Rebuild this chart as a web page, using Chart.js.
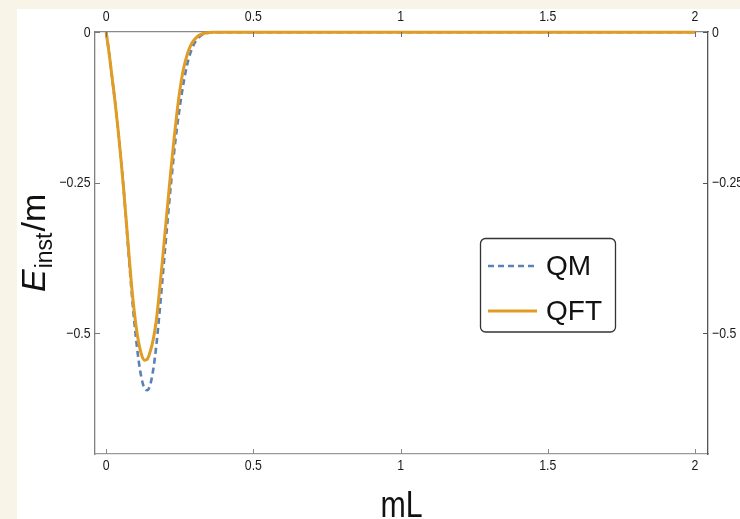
<!DOCTYPE html>
<html><head><meta charset="utf-8">
<script src="https://cdn.jsdelivr.net/npm/chart.js@4.4.0/dist/chart.umd.min.js"></script>
<style>html,body{margin:0;padding:0;background:#f8f5e8;overflow:hidden}#wrap{position:absolute;left:0;top:0;width:740px;height:519px}canvas{display:block}</style>
</head><body><div id="wrap"><canvas id="c" width="740" height="519"></canvas></div>
<script>
// ---- data ----
const mL = [0,0.01,0.02,0.03,0.04,0.05,0.06,0.07,0.08,0.09,0.10,0.11,0.12,0.13,0.14,0.15,0.16,0.17,0.18,0.19,0.20,0.21,0.22,0.23,0.24,0.25,0.26,0.27,0.28,0.29,0.30,0.31,0.32,0.33,0.34,0.35,0.36,2.0];
const QM  = [0,-0.035,-0.075,-0.115,-0.16,-0.21,-0.265,-0.328,-0.392,-0.452,-0.503,-0.545,-0.575,-0.592,-0.595,-0.585,-0.56,-0.522,-0.472,-0.417,-0.36,-0.305,-0.252,-0.203,-0.16,-0.124,-0.092,-0.065,-0.044,-0.029,-0.018,-0.011,-0.006,-0.003,-0.0015,-0.0005,0,0];
const QFT = [0,-0.035,-0.075,-0.115,-0.16,-0.21,-0.265,-0.325,-0.385,-0.44,-0.483,-0.515,-0.536,-0.545,-0.543,-0.53,-0.51,-0.48,-0.435,-0.385,-0.332,-0.28,-0.228,-0.18,-0.135,-0.097,-0.067,-0.046,-0.03,-0.019,-0.012,-0.007,-0.004,-0.002,-0.001,-0.0004,0,0];
const seriesNames = ['QM','QFT'];
const xTicks = [0,0.5,1,1.5,2];
const yTicks = [0,-0.25,-0.5];
const xTitle = 'mL';

const REG = "'Liberation Sans',Arial,sans-serif";
const fmt = v => (v === 0 ? '0' : String(v).replace('-', '\u2212'));
const SQ = 0.82; // horizontal squeeze to mimic the narrow face of the reference

function narrowText(c, text, x, y, align, baseline, size){
  c.save(); c.translate(x,y); c.scale(SQ,1);
  c.font = size+'px '+REG; c.textAlign=align; c.textBaseline=baseline; c.fillText(text,0,0);
  c.restore();
}

const bg = {id:'bg', beforeDraw(chart){const c=chart.ctx;c.save();c.fillStyle='#f8f5e8';c.fillRect(0,0,chart.width,chart.height);c.fillStyle='#ffffff';c.fillRect(17,9,chart.width-17,chart.height-9);c.restore();}};

const tickMarks = {id:'tickMarks', afterDraw(chart){
  const c=chart.ctx, a=chart.chartArea, sx=chart.scales.x, sy=chart.scales.y, sx2=chart.scales.x2, sy2=chart.scales.y2;
  c.save(); c.lineWidth=1;
  xTicks.forEach(v=>{const p=Math.round(sx.getPixelForValue(v))+0.5;
    c.strokeStyle='#8a8a8a';c.beginPath();c.moveTo(p,a.bottom);c.lineTo(p,a.bottom-5);c.stroke();
    c.strokeStyle='#6a6a6a';c.beginPath();c.moveTo(p,a.top);c.lineTo(p,a.top+5);c.stroke();});
  yTicks.forEach(v=>{const p=Math.round(sy.getPixelForValue(v))+0.5;
    c.strokeStyle='#7a7a7a';c.beginPath();c.moveTo(a.left,p);c.lineTo(a.left+5,p);c.stroke();
    c.strokeStyle='#555';c.beginPath();c.moveTo(a.right,p);c.lineTo(a.right-5,p);c.stroke();});
  // tick labels, placed through the scales
  c.fillStyle='#1a1a1a';
  xTicks.forEach(v=>{
    narrowText(c, fmt(v), sx.getPixelForValue(v), 466, 'center', 'middle', 15);
    narrowText(c, fmt(v), sx2.getPixelForValue(v), 17, 'center', 'middle', 15);
  });
  yTicks.forEach(v=>{
    narrowText(c, fmt(v), a.left-4.5, sy.getPixelForValue(v)+0.5, 'right', 'middle', 15);
    narrowText(c, fmt(v), a.right+4, sy2.getPixelForValue(v)+0.5, 'left', 'middle', 15);
  });
  c.restore();
}};

const decor = {id:'decor', afterDraw(chart){
  const c=chart.ctx, a=chart.chartArea;
  c.save();
  // legend box
  c.fillStyle='#fff'; c.strokeStyle='#333'; c.lineWidth=1.3;
  c.beginPath(); c.roundRect(480.5,238.5,135,93.5,5); c.fill(); c.stroke();
  chart.data.datasets.forEach((ds,i)=>{
    const y=266+i*45;
    c.strokeStyle=ds.borderColor; c.lineWidth=ds.borderWidth; c.setLineDash(ds.borderDash||[]);
    c.beginPath(); c.moveTo(488,y); c.lineTo(537,y); c.stroke(); c.setLineDash([]);
    c.fillStyle='#111'; c.font='28px '+REG; c.textBaseline='middle'; c.textAlign='left';
    c.fillText(ds.label,546,y+1);
  });
  // x title
  c.fillStyle='#111';
  narrowText(c, xTitle, (a.left+a.right)/2, 517, 'center', 'alphabetic', 37);
  // y title E_inst/m
  c.translate(45,292); c.rotate(-Math.PI/2);
  c.textAlign='left'; c.textBaseline='alphabetic';
  c.font='italic 34px '+REG; c.fillText('E',0,0); let w=c.measureText('E').width+1;
  c.font='23px '+REG; c.fillText('inst',w,7); w+=c.measureText('inst').width+1;
  c.font='34px '+REG; c.fillText('/m',w,0);
  c.restore();
}};

const common = {type:'linear', grid:{display:false,drawTicks:false}};

new Chart(document.getElementById('c'), {
  type:'line',
  data:{datasets:[
    {label:seriesNames[0], data:mL.map((x,i)=>({x,y:QM[i]})), borderColor:'#5E81B5', borderWidth:2.6, borderDash:[6,4], pointRadius:0, cubicInterpolationMode:'monotone', fill:false, clip:false, order:1},
    {label:seriesNames[1], data:mL.map((x,i)=>({x,y:QFT[i]})), borderColor:'#E19C24', borderWidth:3, pointRadius:0, cubicInterpolationMode:'monotone', fill:false, clip:false, order:0}
  ]},
  options:{
    responsive:false, animation:false, devicePixelRatio:1,
    layout:{padding:0},
    plugins:{legend:{display:false}, tooltip:{enabled:false}},
    scales:{
      x:{...common, position:'bottom', min:-0.038, max:2.044,
         border:{display:true,color:'#9a9a9a',width:1.3},
         afterBuildTicks:s=>{s.ticks=xTicks.map(v=>({value:v}));},
         ticks:{display:false},
         afterFit:s=>{s.height=65;}},
      x2:{...common, position:'top', min:-0.038, max:2.044,
         border:{display:true,color:'#888',width:1.3},
         afterBuildTicks:s=>{s.ticks=xTicks.map(v=>({value:v}));},
         ticks:{display:false},
         afterFit:s=>{s.height=32;}},
      y:{...common, position:'left', min:-0.701, max:0.0005,
         border:{display:true,color:'#808080',width:1.3},
         afterBuildTicks:s=>{s.ticks=yTicks.map(v=>({value:v}));},
         ticks:{display:false},
         afterFit:s=>{s.width=95;}},
      y2:{...common, position:'right', min:-0.701, max:0.0005,
         border:{display:true,color:'#555',width:1.3},
         afterBuildTicks:s=>{s.ticks=yTicks.map(v=>({value:v}));},
         ticks:{display:false},
         afterFit:s=>{s.width=32;}}
    }
  },
  plugins:[bg,tickMarks,decor]
});
</script></body></html>
